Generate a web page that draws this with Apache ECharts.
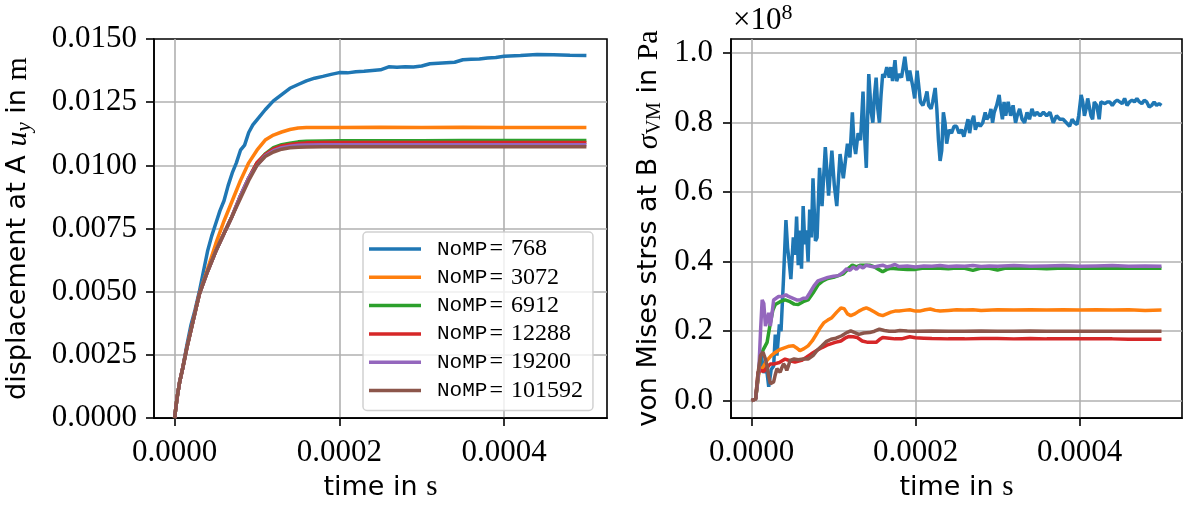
<!DOCTYPE html>
<html><head><meta charset="utf-8">
<script src="https://cdn.jsdelivr.net/npm/echarts@6/dist/echarts.min.js"></script>
<style>html,body{margin:0;padding:0;background:#fff}#c{width:1184px;height:507px}</style>
</head><body><div id="c"></div>
<script>
// ---------- data (time in microseconds) ----------
const nomp = ['768', '3072', '6912', '12288', '19200', '101592'];
const colors = ['#1f77b4', '#ff7f0e', '#2ca02c', '#d62728', '#9467bd', '#8c564b'];
const timeTicks = [0, 0.0002, 0.0004];
const stressTicks = [0, 0.2, 0.4, 0.6, 0.8, 1.0];

// displacement at A, u_y in m
const disp768 = [[0,0],[3,0.0008],[6,0.0014],[10,0.0020],[15,0.0029],[20,0.0037],[25,0.0043],[30,0.0050],[35,0.0058],[40,0.0066],[45,0.0072],[50,0.0077],[55,0.0082],[60,0.0086],[65,0.0092],[70,0.0097],[75,0.0101],[80,0.0106],[85,0.0108],[90,0.0113],[95,0.0116],[100,0.0118],[110,0.0122],[120,0.01255],[130,0.0128],[140,0.01305],[150,0.0132],[160,0.01334],[170,0.01345],[180,0.01352],[190,0.0136],[200,0.01367],[210,0.01366],[220,0.0137],[230,0.01372],[240,0.01375],[250,0.01378],[260,0.0139],[270,0.01388],[280,0.0139],[290,0.01389],[300,0.01393],[310,0.01402],[320,0.01404],[330,0.01406],[340,0.01408],[350,0.01418],[360,0.0142],[370,0.01421],[380,0.01425],[390,0.01427],[400,0.01432],[420,0.01435],[440,0.01439],[460,0.01438],[480,0.01436],[500,0.01435]];
const disp3072 = [[0,0],[3,0.0008],[6,0.0014],[10,0.0020],[15,0.0028],[20,0.0035],[25,0.0042],[30,0.0049],[40,0.0059],[50,0.0069],[60,0.0078],[70,0.0086],[80,0.0094],[90,0.0101],[100,0.0106],[110,0.0110],[120,0.0112],[130,0.01132],[140,0.01142],[150,0.01148],[160,0.0115],[180,0.0115],[200,0.0115],[250,0.01151],[300,0.0115],[350,0.01151],[400,0.0115],[450,0.0115],[500,0.0115]];
const disp6912 = [[0,0],[3,0.0008],[6,0.0014],[10,0.0020],[15,0.0028],[20,0.0035],[25,0.0042],[30,0.0049],[40,0.0058],[50,0.0066],[60,0.0073],[70,0.0080],[80,0.0088],[90,0.0095],[100,0.0101],[110,0.01045],[120,0.0107],[130,0.01082],[140,0.01088],[150,0.01093],[160,0.01095],[180,0.01096],[200,0.01097],[250,0.01097],[300,0.01097],[350,0.01098],[400,0.01098],[450,0.01098],[500,0.01098]];
const disp12288 = [[0,0],[3,0.0008],[6,0.0014],[10,0.0020],[15,0.0028],[20,0.0035],[25,0.0042],[30,0.0049],[40,0.0058],[50,0.0066],[60,0.0073],[70,0.0080],[80,0.0088],[90,0.0095],[100,0.0101],[110,0.01043],[120,0.01065],[130,0.01077],[140,0.01083],[150,0.01087],[160,0.01089],[180,0.0109],[200,0.0109],[250,0.0109],[300,0.0109],[350,0.0109],[400,0.0109],[450,0.0109],[500,0.0109]];
const disp19200 = [[0,0],[3,0.0008],[6,0.0014],[10,0.0020],[15,0.0028],[20,0.0035],[25,0.0042],[30,0.0049],[40,0.0058],[50,0.0066],[60,0.0073],[70,0.0080],[80,0.0088],[90,0.0095],[100,0.0100],[110,0.01038],[120,0.01058],[130,0.0107],[140,0.01076],[150,0.0108],[160,0.01081],[180,0.01082],[200,0.01082],[250,0.01082],[300,0.01082],[350,0.01082],[400,0.01082],[450,0.01082],[500,0.01082]];
const disp101592 = [[0,0],[3,0.0008],[6,0.0014],[10,0.0020],[15,0.0028],[20,0.0035],[25,0.0042],[30,0.0049],[40,0.0058],[50,0.0066],[60,0.0073],[70,0.0080],[80,0.0087],[90,0.0094],[100,0.0100],[110,0.01035],[120,0.01053],[130,0.01064],[140,0.0107],[150,0.01072],[160,0.01073],[180,0.01074],[200,0.01074],[250,0.01074],[300,0.01074],[350,0.01074],[400,0.01074],[450,0.01074],[500,0.01074]];

// von Mises stress at B, in units of 1e8 Pa
const stress768 = [[0,0],[5,0.005],[9,0.09],[12,0.13],[15,0.08],[18,0.10],[21,0.04],[24,0.09],[27,0.10],[29,0.19],[31,0.13],[34,0.22],[36,0.20],[39,0.35],[42,0.52],[44,0.44],[46,0.40],[48,0.35],[51,0.47],[53,0.42],[55,0.53],[57,0.39],[59,0.49],[61,0.38],[63,0.56],[65,0.45],[67,0.49],[69,0.40],[71,0.55],[73,0.47],[75,0.64],[78,0.46],[80,0.47],[83,0.67],[86,0.56],[90,0.73],[94,0.59],[98,0.72],[101,0.62],[104,0.56],[108,0.71],[112,0.64],[115,0.70],[117,0.74],[120,0.70],[123,0.83],[125,0.74],[127,0.71],[130,0.77],[133,0.75],[136,0.89],[138,0.76],[140,0.67],[143,0.94],[146,0.83],[148,0.80],[150,0.88],[152,0.93],[154,0.84],[156,0.80],[158,0.88],[160,0.94],[162,0.93],[165,0.96],[168,0.93],[170,0.96],[172,0.92],[175,0.98],[177,0.92],[180,0.94],[183,0.93],[187,0.99],[189,0.95],[191,0.92],[193,0.95],[195,0.95],[197,0.90],[199,0.87],[202,0.95],[204,0.95],[206,0.86],[209,0.85],[212,0.87],[214,0.89],[216,0.85],[219,0.84],[221,0.86],[224,0.90],[226,0.84],[228,0.75],[230,0.69],[232,0.72],[234,0.83],[236,0.80],[238,0.74],[241,0.78],[244,0.77],[247,0.79],[250,0.79],[253,0.77],[256,0.78],[259,0.76],[262,0.79],[264,0.81],[266,0.77],[268,0.80],[271,0.82],[273,0.78],[276,0.80],[279,0.79],[282,0.80],[285,0.83],[287,0.81],[290,0.82],[292,0.84],[294,0.80],[296,0.83],[299,0.85],[302,0.88],[304,0.84],[306,0.81],[308,0.86],[310,0.82],[313,0.86],[316,0.82],[319,0.85],[322,0.80],[324,0.82],[327,0.84],[330,0.81],[333,0.80],[336,0.83],[339,0.81],[342,0.84],[345,0.82],[348,0.83],[352,0.82],[356,0.83],[360,0.82],[364,0.83],[368,0.80],[372,0.82],[376,0.81],[380,0.81],[384,0.80],[388,0.79],[391,0.81],[394,0.80],[397,0.795],[399,0.82],[401,0.86],[402,0.88],[404,0.86],[406,0.82],[408,0.84],[410,0.87],[412,0.87],[414,0.82],[416,0.81],[418,0.86],[421,0.85],[424,0.81],[426,0.86],[428,0.86],[431,0.855],[434,0.86],[437,0.86],[440,0.85],[443,0.86],[446,0.865],[449,0.86],[452,0.855],[455,0.87],[458,0.85],[461,0.86],[464,0.865],[467,0.86],[470,0.87],[473,0.86],[476,0.855],[479,0.865],[482,0.86],[485,0.845],[488,0.85],[491,0.86],[494,0.85],[497,0.855],[500,0.85]];
const stress3072 = [[0,0],[5,0.005],[9,0.08],[11,0.087],[15,0.10],[19,0.116],[24,0.13],[29,0.139],[35,0.148],[41,0.153],[46,0.157],[51,0.158],[55,0.152],[59,0.144],[64,0.15],[69,0.158],[74,0.172],[78,0.187],[83,0.207],[88,0.224],[93,0.232],[98,0.239],[104,0.255],[109,0.267],[113,0.265],[117,0.25],[121,0.245],[126,0.25],[131,0.258],[136,0.264],[140,0.267],[145,0.262],[150,0.255],[155,0.248],[160,0.245],[165,0.25],[170,0.255],[175,0.258],[180,0.258],[186,0.26],[193,0.262],[200,0.258],[205,0.258],[212,0.262],[218,0.264],[224,0.26],[230,0.258],[240,0.26],[250,0.262],[260,0.261],[270,0.262],[280,0.26],[300,0.262],[320,0.261],[340,0.262],[360,0.261],[380,0.262],[400,0.261],[420,0.262],[440,0.261],[460,0.262],[480,0.26],[500,0.261]];
const stress6912 = [[0,0],[5,0.005],[9,0.09],[11,0.13],[15,0.15],[19,0.168],[23,0.224],[26,0.26],[29,0.277],[35,0.285],[41,0.29],[47,0.285],[52,0.278],[57,0.277],[63,0.285],[69,0.29],[75,0.31],[81,0.333],[87,0.345],[93,0.352],[100,0.355],[106,0.36],[112,0.365],[118,0.38],[123,0.39],[128,0.385],[133,0.39],[138,0.39],[144,0.39],[150,0.385],[155,0.378],[160,0.371],[165,0.378],[170,0.381],[180,0.379],[190,0.378],[200,0.378],[210,0.382],[220,0.381],[230,0.381],[240,0.38],[250,0.382],[260,0.381],[270,0.375],[280,0.382],[290,0.381],[300,0.376],[310,0.382],[320,0.381],[340,0.382],[360,0.38],[380,0.382],[400,0.381],[420,0.382],[440,0.381],[460,0.382],[480,0.381],[500,0.381]];
const stress12288 = [[0,0],[5,0.005],[8,0.082],[11,0.087],[15,0.085],[19,0.095],[23,0.106],[28,0.106],[34,0.11],[41,0.12],[47,0.115],[53,0.111],[61,0.116],[67,0.125],[73,0.135],[80,0.145],[86,0.153],[92,0.16],[102,0.168],[109,0.172],[114,0.18],[119,0.185],[124,0.184],[129,0.182],[135,0.172],[142,0.168],[147,0.168],[152,0.168],[156,0.176],[160,0.182],[168,0.18],[175,0.178],[183,0.178],[193,0.184],[200,0.181],[210,0.18],[220,0.179],[240,0.178],[260,0.178],[280,0.179],[300,0.179],[320,0.178],[340,0.179],[360,0.178],[380,0.178],[400,0.178],[420,0.178],[440,0.178],[460,0.177],[480,0.177],[500,0.177]];
const stress19200 = [[0,0],[5,0.005],[9,0.09],[11,0.2],[13,0.29],[15,0.28],[17,0.215],[19,0.22],[21,0.253],[23,0.215],[25,0.25],[27,0.29],[30,0.295],[33,0.30],[38,0.30],[42,0.305],[45,0.30],[50,0.295],[55,0.29],[59,0.29],[63,0.295],[67,0.295],[71,0.31],[76,0.33],[81,0.345],[87,0.35],[93,0.355],[100,0.358],[106,0.36],[112,0.37],[116,0.38],[120,0.375],[124,0.385],[128,0.378],[132,0.388],[136,0.382],[140,0.39],[145,0.387],[150,0.385],[155,0.388],[160,0.39],[165,0.385],[170,0.388],[175,0.392],[180,0.386],[190,0.388],[200,0.385],[210,0.388],[220,0.387],[230,0.389],[240,0.386],[250,0.388],[260,0.387],[270,0.389],[280,0.386],[290,0.388],[300,0.387],[320,0.389],[340,0.387],[360,0.388],[380,0.389],[400,0.387],[420,0.388],[440,0.389],[460,0.387],[480,0.388],[500,0.387]];
const stress101592 = [[0,0],[5,0.005],[8,0.08],[11,0.13],[14,0.14],[17,0.12],[19,0.101],[21,0.07],[23,0.049],[25,0.05],[27,0.054],[29,0.075],[31,0.092],[33,0.09],[35,0.082],[37,0.095],[39,0.106],[41,0.10],[43,0.087],[45,0.10],[47,0.116],[52,0.12],[57,0.118],[63,0.12],[69,0.12],[75,0.13],[80,0.145],[86,0.158],[91,0.17],[97,0.177],[103,0.18],[110,0.187],[116,0.196],[121,0.201],[126,0.196],[131,0.191],[137,0.195],[144,0.196],[150,0.2],[156,0.206],[162,0.202],[168,0.2],[175,0.2],[181,0.202],[190,0.201],[200,0.2],[220,0.201],[240,0.2],[260,0.2],[280,0.201],[300,0.2],[320,0.2],[340,0.201],[360,0.2],[380,0.2],[400,0.2],[420,0.2],[440,0.2],[460,0.2],[480,0.2],[500,0.2]];

const dispSets = [disp768, disp3072, disp6912, disp12288, disp19200, disp101592];
const stressSets = [stress768, stress3072, stress6912, stress12288, stress19200, stress101592];

// ---------- chart ----------
const SERIF = 'Liberation Serif';
const SANS = 'DejaVu Sans';
const AX = '#000';
const GRIDC = '#b0b0b0';
const LW = 3.5;
const TF = 31;
const toSec = arr => arr.map(p => [p[0] * 1e-6, p[1]]);

function xAxisFor(gi) {
  return {
    type: 'value', gridIndex: gi, min: -0.000025, max: 0.000525,
    axisLine: {show: true, onZero: false, lineStyle: {color: AX, width: 1.6}},
    axisTick: {show: true, length: 8, customValues: timeTicks, lineStyle: {color: AX, width: 1.6}},
    axisLabel: {customValues: timeTicks, formatter: v => v.toFixed(4), fontFamily: SERIF, fontSize: TF, color: '#000', margin: 19},
    splitLine: {show: true, lineStyle: {color: GRIDC, width: 1.6}},
    name: '{s|time in }{r|s}', nameLocation: 'middle', nameGap: 52,
    nameTextStyle: {rich: {s: {fontFamily: SANS, fontSize: 27, color: '#000', lineHeight: 34}, r: {fontFamily: SERIF, fontSize: 29, color: '#000', lineHeight: 34}}}
  };
}

const richName = {
  s: {fontFamily: SANS, fontSize: 27, color: '#000', lineHeight: 36},
  i: {fontFamily: SERIF, fontStyle: 'italic', fontSize: 30, color: '#000', lineHeight: 36},
  r: {fontFamily: SERIF, fontSize: 30, color: '#000', lineHeight: 36},
  sub: {fontFamily: SERIF, fontStyle: 'italic', fontSize: 21, color: '#000', padding: [12, 0, 0, 0]},
  subr: {fontFamily: SERIF, fontSize: 20, color: '#000', padding: [12, 0, 0, 0]}
};

const series = [];
nomp.forEach((n, k) => {
  series.push({
    name: 'NoMP= ' + n, type: 'line', xAxisIndex: 0, yAxisIndex: 0,
    data: toSec(dispSets[k]), showSymbol: false, symbol: 'none',
    lineStyle: {color: colors[k], width: LW}, itemStyle: {color: colors[k]}, animation: false
  });
});
nomp.forEach((n, k) => {
  series.push({
    name: 'NoMP= ' + n, type: 'line', xAxisIndex: 1, yAxisIndex: 1,
    data: toSec(stressSets[k]), showSymbol: false, symbol: 'none',
    lineStyle: {color: colors[k], width: LW}, itemStyle: {color: colors[k]}, animation: false
  });
});

const chart = echarts.init(document.getElementById('c'), null, {renderer: 'canvas'});
chart.setOption({
  animation: false,
  backgroundColor: '#fff',
  grid: [
    {left: 154, top: 39, width: 453, height: 384, show: true, borderColor: '#000', borderWidth: 1.6, backgroundColor: 'transparent'},
    {left: 731, top: 39, width: 451, height: 384, show: true, borderColor: '#000', borderWidth: 1.6, backgroundColor: 'transparent'}
  ],
  xAxis: [xAxisFor(0), xAxisFor(1)],
  yAxis: [
    {
      type: 'value', gridIndex: 0, min: 0, max: 0.015, interval: 0.0025,
      axisLine: {show: true, onZero: false, lineStyle: {color: AX, width: 1.6}},
      axisTick: {show: true, length: 8, lineStyle: {color: AX, width: 1.6}},
      axisLabel: {formatter: v => v.toFixed(4), fontFamily: SERIF, fontSize: TF, color: '#000', margin: 17},
      splitLine: {show: true, showMaxLine: false, showMinLine: false, lineStyle: {color: GRIDC, width: 1.6}},
      name: '{s|displacement at A }{i|u}{sub|y}{s| in }{r|m}', nameLocation: 'middle', nameRotate: 90, nameGap: 118,
      nameTextStyle: {rich: richName}
    },
    {
      type: 'value', gridIndex: 1, min: -0.05, max: 1.041,
      axisLine: {show: true, onZero: false, lineStyle: {color: AX, width: 1.6}},
      axisTick: {show: true, length: 8, customValues: stressTicks, lineStyle: {color: AX, width: 1.6}},
      axisLabel: {customValues: stressTicks, formatter: v => v.toFixed(1), fontFamily: SERIF, fontSize: TF, color: '#000', margin: 18},
      splitLine: {show: true, lineStyle: {color: GRIDC, width: 1.6}},
      name: '{s|von Mises strss at B }{i|σ}{subr|VM}{s| in }{r|Pa}', nameLocation: 'middle', nameRotate: 90, nameGap: 64,
      nameTextStyle: {rich: richName}
    }
  ],
  legend: {
    orient: 'vertical', left: 363, top: 232,
    icon: 'rect', itemWidth: 52, itemHeight: 3.5, itemGap: 0.3,
    padding: [3, 10, 6, 6],
    backgroundColor: 'rgba(255,255,255,0.8)', borderColor: 'rgba(204,204,204,0.9)', borderWidth: 1.5, borderRadius: 4,
    data: nomp.map(n => 'NoMP= ' + n),
    formatter: name => '{m|NoMP}{e|=}{n|' + name.split(' ')[1] + '}',
    textStyle: {
      lineHeight: 28,
      padding: [0, 0, 0, 11],
      rich: {
        m: {fontFamily: 'Liberation Mono', fontSize: 21, color: '#000', lineHeight: 28},
        e: {fontFamily: SERIF, fontSize: 24, color: '#000', lineHeight: 28, padding: [0, 8, 0, 2]},
        n: {fontFamily: SERIF, fontSize: 24, color: '#000', lineHeight: 28}
      }
    },
    selectedMode: false
  },
  graphic: [{
    type: 'text', left: 733, top: 2, z: 10,
    style: {text: '{a|×10}{b|8}', rich: {
      a: {fontFamily: SERIF, fontSize: 31, fill: '#000', lineHeight: 34},
      b: {fontFamily: SERIF, fontSize: 22, fill: '#000', padding: [0, 0, 15, 0]}
    }}
  }],
  series: series
});
</script>
</body></html>
